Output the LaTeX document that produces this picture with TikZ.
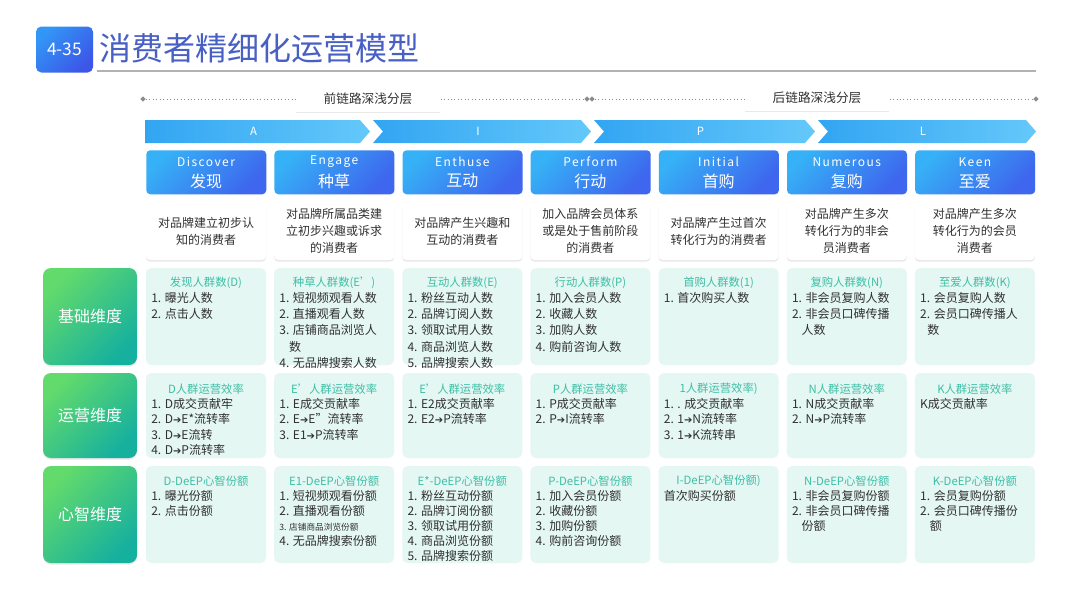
\documentclass[tikz,border=0pt]{standalone}
\usepackage{fontspec}
\setmainfont{Noto Sans CJK SC}
\newfontfamily\spacedfont[LetterSpace=12]{Noto Sans CJK SC}
\newfontfamily\arrowfont{DejaVu Sans}
\newcommand\heavyto{{\arrowfont\fontsize{7.5}{9}\selectfont ➔}}
\usetikzlibrary{shapes.geometric,shadows}

\definecolor{titleblue}{RGB}{72,96,196}
\definecolor{badgetop}{RGB}{50,150,246}
\definecolor{badgebot}{RGB}{60,86,232}
\definecolor{hdtop}{RGB}{54,176,246}
\definecolor{hdbot}{RGB}{62,102,238}
\definecolor{chevl}{RGB}{50,165,242}
\definecolor{chevr}{RGB}{100,200,250}
\definecolor{dimtop}{RGB}{98,218,108}
\definecolor{dimbot}{RGB}{22,176,158}
\definecolor{mint}{RGB}{228,247,243}
\definecolor{mintdark}{RGB}{62,190,166}
\definecolor{ink}{RGB}{48,48,48}

\begin{document}
\begin{tikzpicture}[x=0.75pt, y=-0.75pt,
    softshadow/.style={drop shadow={shadow xshift=0pt, shadow yshift=-1.2pt, opacity=0.15, fill=black!60}},
    badge/.style={rounded corners=4pt, top color=badgetop, bottom color=badgebot, shading angle=45,
        minimum width=42.75pt, minimum height=34.5pt, inner sep=0pt, text=white, font=\fontsize{13}{15}\selectfont},
    rule/.style={line width=1pt, black!30},
    guide/.style={dotted, line width=0.6pt, black!45},
    tick/.style={diamond, fill=black!45, minimum size=4pt, inner sep=0pt},
    tag/.style={fill=white, minimum width=108pt, minimum height=19pt, inner sep=0pt, text=ink,
        font=\fontsize{9.5}{11}\selectfont, softshadow},
    chev/.style={left color=chevl, right color=chevr},
    chevtxt/.style={text=white, inner sep=0pt, font=\fontsize{8.5}{10}\selectfont},
    hdbox/.style={rounded corners=3pt, top color=hdtop, bottom color=hdbot, shading angle=45,
        minimum width=90pt, minimum height=33pt, inner sep=0pt, anchor=north west},
    hden/.style={text=white, inner sep=0pt, font=\spacedfont\fontsize{9}{11}\selectfont},
    hdcn/.style={text=white, inner sep=0pt, font=\fontsize{12}{14}\selectfont},
    dsbox/.style={fill=white, rounded corners=3pt, minimum width=90pt, minimum height=43.5pt, inner sep=0pt,
        align=center, text=ink, font=\fontsize{9}{12.75}\selectfont, softshadow},
    dimbox/.style={rounded corners=6pt, top color=dimtop, bottom color=dimbot, shading angle=45,
        minimum width=70.5pt, inner sep=0pt, text=white, font=\fontsize{12}{14}\selectfont, softshadow},
    cellbox/.style={fill=mint, rounded corners=4pt, minimum width=90pt, inner sep=0pt},
    celltitle/.style={text=mintdark, inner sep=0pt, font=\fontsize{8.5}{10}\selectfont},
    cellitems/.style={anchor=north west, align=left, inner sep=0pt, text=ink},
]
    \fill[white] (0,0) rectangle (1080,608);
    \useasboundingbox (0,0) rectangle (1080,608);

    % Title
    \node[badge] (badge) at (64.5,49.5) {4-35};
    \node[anchor=west, inner sep=0pt, text=titleblue, font=\fontsize{24}{27}\selectfont] (title) at (99,48) {消费者精细化运营模型};
    \draw[rule] (97,71) -- (1036,71);

    % Front / back chain
    \node[tick] (g1) at (143,99) {};
    \node[tick] (g2) at (587,99) {};
    \node[tick] (g3) at (592,99) {};
    \node[tick] (g4) at (1036,99) {};
    \draw[guide] (g1) -- (g2);
    \draw[guide] (g3) -- (g4);
    \node[tag] (front) at (368,99) {前链路深浅分层};
    \node[tag] (back) at (817,98) {后链路深浅分层};

    % AIPL chevrons
    \foreach \a/\b/\n/\s in {145/370/0/A, 373/591/10/I, 594/815/10/P, 818/1036/10/L} {
        \shade[chev] (\a,120) -- (\b-10,120) -- (\b,131.5) -- (\b-10,143) -- (\a,143) -- (\a+\n,131.5) -- cycle;
        \node[chevtxt] (ch\s) at ({(\a+\b)/2-4},131.5) {\s};
    }

    % Stages
    \foreach \i/\en/\cn/\ds in {
        1/Discover/发现/{对品牌建立初步认\\知的消费者},
        2/Engage/种草/{对品牌所属品类建\\立初步兴趣或诉求\\的消费者},
        3/Enthuse/互动/{对品牌产生兴趣和\\互动的消费者},
        4/Perform/行动/{加入品牌会员体系\\或是处于售前阶段\\的消费者},
        5/Initial/首购/{对品牌产生过首次\\转化行为的消费者},
        6/Numerous/复购/{对品牌产生多次\\转化行为的非会\\员消费者},
        7/Keen/至爱/{对品牌产生多次\\转化行为的会员\\消费者}} {
        \pgfmathsetmacro\x{146+(\i-1)*128.15}
        \node[hdbox] (hd\i) at (\x,150) {};
        \node[hden] (en\i) at (\x+60,162) {\en};
        \node[hdcn] (cn\i) at (\x+60,181) {\cn};
        \node[dsbox] (ds\i) at (\x+60,231) {\ds};
    }

    % Base dimension
    \begin{scope}[cellitems/.append style={font=\fontsize{9}{12.2}\selectfont}]
        \node[dimbox, minimum height=72.75pt] (dimA) at (90,316.5) {基础维度};
        \foreach \i/\t/\b in {
            1/{发现人群数(D)}/{1. 曝光人数\\2. 点击人数},
            2/{种草人群数(E’)}/{1. 短视频观看人数\\2. 直播观看人数\\3. 店铺商品浏览人\\\hspace*{0.8em}数\\4. 无品牌搜索人数},
            3/{互动人群数(E)}/{1. 粉丝互动人数\\2. 品牌订阅人数\\3. 领取试用人数\\4. 商品浏览人数\\5. 品牌搜索人数},
            4/{行动人群数(P)}/{1. 加入会员人数\\2. 收藏人数\\3. 加购人数\\4. 购前咨询人数},
            5/{首购人群数(1)}/{1. 首次购买人数},
            6/{复购人群数(N)}/{1. 非会员复购人数\\2. 非会员口碑传播\\\hspace*{0.8em}人数},
            7/{至爱人群数(K)}/{1. 会员复购人数\\2. 会员口碑传播人\\\hspace*{0.6em}数}} {
            \pgfmathsetmacro\x{146+(\i-1)*128.15}
            \node[cellbox, minimum height=72.75pt] (cA\i) at (\x+60,316.5) {};
            \node[celltitle] (tA\i) at (\x+60,283) {\t};
            \node[cellitems] (bA\i) at (\x+5,292) {\b};
        }
    \end{scope}

    % Operation dimension
    \begin{scope}[cellitems/.append style={font=\fontsize{9}{11.6}\selectfont}]
        \node[dimbox, minimum height=63.75pt] (dimB) at (90,415.5) {运营维度};
        \foreach \i/\t/\b in {
            1/{D人群运营效率}/{1. D成交贡献牢\\2. D\heavyto E*流转率\\3. D\heavyto E流转\\4. D\heavyto P流转率},
            2/{E’人群运营效率}/{1. E成交贡献率\\2. E\heavyto E”流转率\\3. E1\heavyto P流转率},
            3/{E’人群运营效率}/{1. E2成交贡献率\\2. E2\heavyto P流转率},
            4/{P人群运营效率}/{1. P成交贡献率\\2. P\heavyto I流转率},
            5/{1人群运营效率)}/{1. . 成交贡献率\\2. 1\heavyto N流转率\\3. 1\heavyto K流转串},
            6/{N人群运营效率}/{1. N成交贡献率\\2. N\heavyto P流转率},
            7/{K人群运营效率}/{K成交贡献率}} {
            \pgfmathsetmacro\x{146+(\i-1)*128.15}
            \node[cellbox, minimum height=63.75pt] (cB\i) at (\x+60,415.5) {};
            \node[celltitle] (tB\i) at (\x+60,389) {\t};
            \node[cellitems] (bB\i) at (\x+5,398) {\b};
        }
    \end{scope}

    % Mind dimension
    \begin{scope}[cellitems/.append style={font=\fontsize{9}{11.25}\selectfont}]
        \node[dimbox, minimum height=72.75pt] (dimC) at (90,514.5) {心智维度};
        \foreach \i/\t/\b in {
            1/{D-DeEP心智份额}/{1. 曝光份额\\2. 点击份额},
            2/{E1-DeEP心智份额}/{1. 短视频观看份额\\2. 直播观看份额\\{\fontsize{6.5}{11.25}\selectfont 3. 店铺商品浏览份额}\\4. 无品牌搜索份额},
            3/{E*-DeEP心智份额}/{1. 粉丝互动份额\\2. 品牌订阅份额\\3. 领取试用份额\\4. 商品浏览份额\\5. 品牌搜索份额},
            4/{P-DeEP心智份额}/{1. 加入会员份额\\2. 收藏份额\\3. 加购份额\\4. 购前咨询份额},
            5/{I-DeEP心智份额)}/{首次购买份额},
            6/{N-DeEP心智份额}/{1. 非会员复购份额\\2. 非会员口碑传播\\\hspace*{0.8em}份额},
            7/{K-DeEP心智份额}/{1. 会员复购份额\\2. 会员口碑传播份\\\hspace*{0.8em}额}} {
            \pgfmathsetmacro\x{146+(\i-1)*128.15}
            \node[cellbox, minimum height=72.75pt] (cC\i) at (\x+60,514.5) {};
            \node[celltitle] (tC\i) at (\x+60,481) {\t};
            \node[cellitems] (bC\i) at (\x+5,490) {\b};
        }
    \end{scope}
\end{tikzpicture}
\end{document}
